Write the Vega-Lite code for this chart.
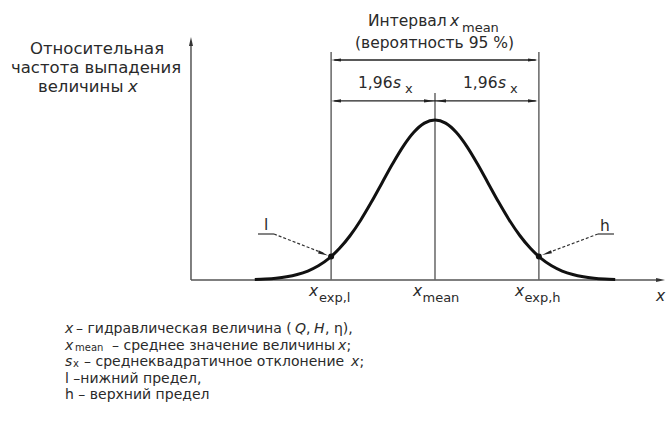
{
  "$schema": "https://vega.github.io/schema/vega-lite/v6.json",
  "width": 666,
  "height": 426,
  "autosize": {"type": "fit", "contains": "padding"},
  "padding": 0,
  "background": "white",
  "config": {"view": {"stroke": null}},
  "datasets": {
    "curve": [
      {"u": -3.4, "v": 0.0031}, {"u": -3.2, "v": 0.006}, {"u": -3.0, "v": 0.0111}, {"u": -2.8, "v": 0.0198},
      {"u": -2.6, "v": 0.034}, {"u": -2.4, "v": 0.0561}, {"u": -2.2, "v": 0.0889}, {"u": -2.0, "v": 0.1353},
      {"u": -1.8, "v": 0.1979}, {"u": -1.6, "v": 0.278}, {"u": -1.4, "v": 0.3753}, {"u": -1.2, "v": 0.4868},
      {"u": -1.0, "v": 0.6065}, {"u": -0.8, "v": 0.7261}, {"u": -0.6, "v": 0.8353}, {"u": -0.4, "v": 0.9231},
      {"u": -0.2, "v": 0.9802}, {"u": 0, "v": 1}, {"u": 0.2, "v": 0.9802}, {"u": 0.4, "v": 0.9231},
      {"u": 0.6, "v": 0.8353}, {"u": 0.8, "v": 0.7261}, {"u": 1.0, "v": 0.6065}, {"u": 1.2, "v": 0.4868},
      {"u": 1.4, "v": 0.3753}, {"u": 1.6, "v": 0.278}, {"u": 1.8, "v": 0.1979}, {"u": 2.0, "v": 0.1353},
      {"u": 2.2, "v": 0.0889}, {"u": 2.4, "v": 0.0561}, {"u": 2.6, "v": 0.034}, {"u": 2.8, "v": 0.0198},
      {"u": 3.0, "v": 0.0111}, {"u": 3.2, "v": 0.006}, {"u": 3.4, "v": 0.0031}
    ],
    "axes": [
      {"u": -4.604, "v": 0, "u2": -4.604, "v2": 1.47},
      {"u": -4.604, "v": 0, "u2": 4.2, "v2": 0}
    ],
    "verts": [
      {"u": -1.96, "v": 0, "u2": -1.96, "v2": 1.425},
      {"u": 1.96, "v": 0, "u2": 1.96, "v2": 1.425},
      {"u": 0, "v": 0, "u2": 0, "v2": 1.169}
    ],
    "dims": [
      {"u": -1.9, "v": 1.375, "u2": 1.9, "v2": 1.375},
      {"u": -1.9, "v": 1.119, "u2": 1.9, "v2": 1.119}
    ],
    "underlines": [
      {"u": -3.34, "v": 0.2875, "u2": -3.038, "v2": 0.2875},
      {"u": 3.075, "v": 0.2875, "u2": 3.377, "v2": 0.2875}
    ],
    "leaders": [
      {"u": -3.038, "v": 0.2875, "u2": -2.094, "v2": 0.1656},
      {"u": 3.075, "v": 0.2875, "u2": 2.094, "v2": 0.1656}
    ],
    "heads": [
      {"u": -1.868, "v": 1.375, "dir": 180},
      {"u": 1.849, "v": 1.375, "dir": 0},
      {"u": -1.868, "v": 1.119, "dir": 180},
      {"u": -0.113, "v": 1.119, "dir": 0},
      {"u": 0.113, "v": 1.119, "dir": 180},
      {"u": 1.849, "v": 1.119, "dir": 0},
      {"u": -2.108, "v": 0.164, "dir": 21},
      {"u": 2.108, "v": 0.166, "dir": 161}
    ],
    "axisheads": [
      {"u": -4.604, "v": 1.4906, "dir": 270},
      {"u": 4.255, "v": 0, "dir": 0}
    ],
    "dots": [
      {"u": -1.96, "v": 0.1465},
      {"u": 1.96, "v": 0.1465}
    ],
    "n155": [
      {"u": -1.264, "v": 1.619, "t": "Интервал"},
      {"u": -1.509, "v": 1.481, "t": "(вероятность 95 %)"},
      {"u": -1.453, "v": 1.231, "t": "1,96"},
      {"u": 0.528, "v": 1.231, "t": "1,96"},
      {"u": -3.226, "v": 0.344, "t": "l"},
      {"u": 3.113, "v": 0.3375, "t": "h"}
    ],
    "i155": [
      {"u": 0.283, "v": 1.619, "t": "x"},
      {"u": -0.792, "v": 1.231, "t": "s"},
      {"u": 1.189, "v": 1.231, "t": "s"},
      {"u": -2.377, "v": -0.069, "t": "x"},
      {"u": -0.415, "v": -0.069, "t": "x"},
      {"u": 1.509, "v": -0.069, "t": "x"},
      {"u": 4.17, "v": -0.1, "t": "x"}
    ],
    "sub13": [
      {"u": 0.509, "v": 1.575, "t": "mean"},
      {"u": -0.566, "v": 1.194, "t": "x"},
      {"u": 1.415, "v": 1.194, "t": "x"},
      {"u": -2.189, "v": -0.1125, "t": "exp,l"},
      {"u": -0.236, "v": -0.1125, "t": "mean"},
      {"u": 1.689, "v": -0.1125, "t": "exp,h"}
    ],
    "ytitle": [
      {"u": -7.642, "v": 1.444, "t": "Относительная"},
      {"u": -8.0, "v": 1.325, "t": "частота выпадения"},
      {"u": -7.491, "v": 1.206, "t": "величины"}
    ],
    "ytitlei": [
      {"u": -5.792, "v": 1.206, "t": "x"}
    ],
    "leg": [
      {"u": -6.774, "v": -0.30625, "t": "– гидравлическая величина ("},
      {"u": -2.434, "v": -0.30625, "t": ","},
      {"u": -2.075, "v": -0.30625, "t": ", η),"},
      {"u": -6.094, "v": -0.409375, "t": "– среднее значение величины"},
      {"u": -1.67, "v": -0.409375, "t": ";"},
      {"u": -6.623, "v": -0.5125, "t": "– среднеквадратичное отклонение"},
      {"u": -1.425, "v": -0.5125, "t": ";"},
      {"u": -6.981, "v": -0.615625, "t": "l –нижний предел,"},
      {"u": -6.981, "v": -0.71875, "t": "h – верхний предел"}
    ],
    "legi": [
      {"u": -6.981, "v": -0.30625, "t": "x"},
      {"u": -2.642, "v": -0.30625, "t": "Q"},
      {"u": -2.283, "v": -0.30625, "t": "H"},
      {"u": -6.981, "v": -0.409375, "t": "x"},
      {"u": -1.83, "v": -0.409375, "t": "x"},
      {"u": -6.981, "v": -0.5125, "t": "s"},
      {"u": -1.585, "v": -0.5125, "t": "x"}
    ],
    "legsub": [
      {"u": -6.792, "v": -0.425, "t": "mean"},
      {"u": -6.83, "v": -0.525, "t": "x"}
    ]
  },
  "encoding": {
    "x": {"field": "u", "type": "quantitative", "scale": {"domain": [-8.2075, 4.3585], "nice": false, "zero": false}, "axis": null},
    "y": {"field": "v", "type": "quantitative", "scale": {"domain": [-0.9125, 1.75], "nice": false, "zero": false}, "axis": null}
  },
  "layer": [
    {"data": {"name": "axes"}, "mark": {"type": "rule", "color": "#555", "strokeWidth": 1.5}, "encoding": {"x2": {"field": "u2"}, "y2": {"field": "v2"}}},
    {"data": {"name": "verts"}, "mark": {"type": "rule", "color": "#666", "strokeWidth": 1.5}, "encoding": {"x2": {"field": "u2"}, "y2": {"field": "v2"}}},
    {"data": {"name": "dims"}, "mark": {"type": "rule", "color": "#222", "strokeWidth": 1.3}, "encoding": {"x2": {"field": "u2"}, "y2": {"field": "v2"}}},
    {"data": {"name": "underlines"}, "mark": {"type": "rule", "color": "#333", "strokeWidth": 1.2}, "encoding": {"x2": {"field": "u2"}, "y2": {"field": "v2"}}},
    {"data": {"name": "leaders"}, "mark": {"type": "rule", "color": "#333", "strokeWidth": 1.2, "strokeDash": [3, 2]}, "encoding": {"x2": {"field": "u2"}, "y2": {"field": "v2"}}},
    {"data": {"name": "curve"}, "mark": {"type": "line", "color": "#111", "strokeWidth": 3, "interpolate": "monotone"}, "encoding": {}},
    {"data": {"name": "heads"}, "mark": {"type": "point", "filled": true, "color": "#222", "opacity": 1, "size": 100, "shape": "M1,0L-1,-0.32L-1,0.32Z"}, "encoding": {"angle": {"field": "dir", "type": "quantitative", "scale": null}}},
    {"data": {"name": "axisheads"}, "mark": {"type": "point", "filled": true, "color": "#333", "opacity": 1, "size": 80, "shape": "M1,0L-1,-0.45L-1,0.45Z"}, "encoding": {"angle": {"field": "dir", "type": "quantitative", "scale": null}}},
    {"data": {"name": "dots"}, "mark": {"type": "point", "filled": true, "color": "#111", "opacity": 1, "size": 36, "shape": "circle"}},
    {"data": {"name": "n155"}, "mark": {"type": "text", "font": "DejaVu Sans", "fontSize": 15.5, "align": "left", "baseline": "middle", "color": "#2a2a2a"}, "encoding": {"text": {"field": "t"}}},
    {"data": {"name": "i155"}, "mark": {"type": "text", "font": "DejaVu Sans", "fontSize": 15.5, "fontStyle": "italic", "align": "left", "baseline": "middle", "color": "#2a2a2a"}, "encoding": {"text": {"field": "t"}}},
    {"data": {"name": "sub13"}, "mark": {"type": "text", "font": "DejaVu Sans", "fontSize": 13, "align": "left", "baseline": "middle", "color": "#2a2a2a"}, "encoding": {"text": {"field": "t"}}},
    {"data": {"name": "ytitle"}, "mark": {"type": "text", "font": "DejaVu Sans", "fontSize": 16.5, "align": "left", "baseline": "middle", "color": "#2a2a2a"}, "encoding": {"text": {"field": "t"}}},
    {"data": {"name": "ytitlei"}, "mark": {"type": "text", "font": "DejaVu Sans", "fontSize": 16.5, "fontStyle": "italic", "align": "left", "baseline": "middle", "color": "#2a2a2a"}, "encoding": {"text": {"field": "t"}}},
    {"data": {"name": "leg"}, "mark": {"type": "text", "font": "DejaVu Sans", "fontSize": 14, "align": "left", "baseline": "middle", "color": "#2a2a2a"}, "encoding": {"text": {"field": "t"}}},
    {"data": {"name": "legi"}, "mark": {"type": "text", "font": "DejaVu Sans", "fontSize": 14, "fontStyle": "italic", "align": "left", "baseline": "middle", "color": "#2a2a2a"}, "encoding": {"text": {"field": "t"}}},
    {"data": {"name": "legsub"}, "mark": {"type": "text", "font": "DejaVu Sans", "fontSize": 10, "align": "left", "baseline": "middle", "color": "#2a2a2a"}, "encoding": {"text": {"field": "t"}}}
  ]
}
